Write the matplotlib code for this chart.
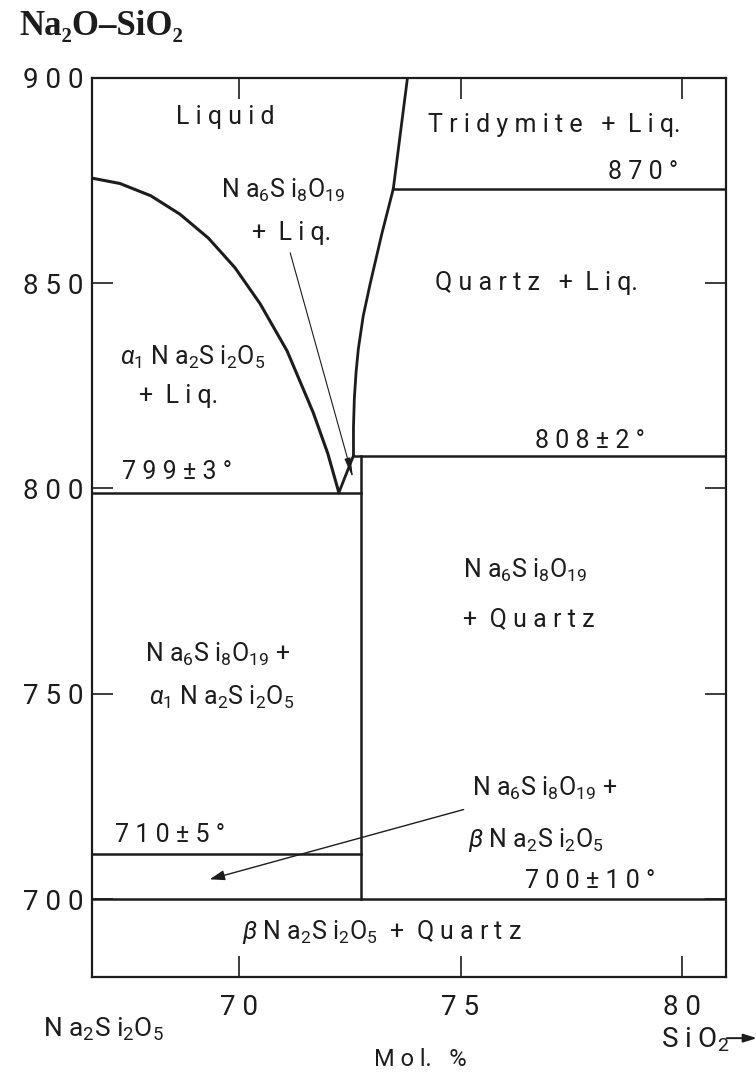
import matplotlib
matplotlib.use('Agg')
import matplotlib.pyplot as plt

plt.rcParams['font.family'] = ['Roboto', 'DejaVu Sans']
plt.rcParams['mathtext.fontset'] = 'custom'
plt.rcParams['mathtext.rm'] = 'Roboto'
plt.rcParams['mathtext.it'] = 'Roboto:italic'
plt.rcParams['mathtext.bf'] = 'Roboto:bold'

INK = '#1c1c1c'

# liquidus of Na2Si2O5 down to the eutectic (mol % SiO2, deg C)
disil_x = [66.67, 67.3, 68.0, 68.66, 69.3, 69.9, 70.47, 71.08, 71.67, 72.0, 72.25]
disil_t = [875.6, 874.3, 871.3, 866.8, 861.0, 853.8, 845.0, 833.5, 818.5, 808.5, 799]

# short Na6Si8O19 liquidus, eutectic -> peritectic
ns_x = [72.25, 72.58]
ns_t = [799, 808]

# quartz liquidus, then tridymite liquidus
qtz_x = [72.58, 72.58, 72.6, 72.64, 72.69, 72.8, 72.96, 73.22, 73.48]
qtz_t = [808, 815, 822, 828.5, 834, 842, 850, 862, 873]
trd_x = [73.48, 73.8]
trd_t = [873, 900]

# invariant lines: (x start, x end, temperature)
iso_x0 = [73.48, 72.58, 66.67, 66.67, 66.67]
iso_x1 = [81.0, 81.0, 72.75, 72.75, 81.0]
iso_t = [873, 808, 799, 711, 700]

# Na6Si8O19 composition line
comp_x = 72.75
comp_t = [700, 808]

x_ticks = [70, 75, 80]
t_ticks = [700, 750, 800, 850, 900]

NS = r'N a$_6$S i$_8$O$_{19}$'
DS = r'N a$_2$S i$_2$O$_5$'

fig = plt.figure(figsize=(7.56, 10.74), dpi=100)
ax = fig.add_axes([0.1217, 0.0903, 0.8386, 0.8371])
ax.set_xlim(66.67, 81.0)
ax.set_ylim(681, 900)

ax.plot(disil_x, disil_t, color=INK, lw=2.2)
ax.plot(ns_x, ns_t, color=INK, lw=2.0)
ax.plot(qtz_x, qtz_t, color=INK, lw=2.0)
ax.plot(trd_x, trd_t, color=INK, lw=2.0)
for a, b, t in zip(iso_x0, iso_x1, iso_t):
    ax.plot([a, b], [t, t], color=INK, lw=1.8)
ax.plot([comp_x, comp_x], comp_t, color=INK, lw=1.8)

# pointer into the small Na6Si8O19 + Liq. field
ax.annotate('', xy=(72.57, 802.5), xytext=(71.15, 857.4),
            arrowprops=dict(arrowstyle='-|>,head_length=1.2,head_width=0.18',
                            color=INK, lw=0.8, shrinkA=0, shrinkB=0))
# arrow to the Na6Si8O19 + beta field
ax.annotate('', xy=(69.33, 704.8), xytext=(75.07, 721.8),
            arrowprops=dict(arrowstyle='-|>,head_length=0.9,head_width=0.3',
                            color=INK, lw=1.0, shrinkA=0, shrinkB=0))

labels = [
    ('L i q u i d', 69.68, 890.5, 'center'),
    ('T r i d y m i t e   +  L i q.', 77.12, 888.5, 'center'),
    ('8 7 0 °', 79.93, 877, 'right'),
    (NS, 71.0, 872.6, 'center'),
    ('+  L i q.', 71.17, 862.3, 'center'),
    ('Q u a r t z   +  L i q.', 76.72, 850, 'center'),
    (r'$\alpha_1$ ' + DS, 68.95, 832, 'center'),
    ('+  L i q.', 68.62, 822.5, 'center'),
    ('8 0 8 ± 2 °', 79.18, 811.5, 'right'),
    ('7 9 9 ± 3 °', 67.35, 804, 'left'),
    (NS, 75.06, 780, 'left'),
    ('+  Q u a r t z', 75.06, 768.3, 'left'),
    (NS + ' +', 69.5, 759.5, 'center'),
    (r'$\alpha_1$ ' + DS, 69.6, 749.2, 'center'),
    (NS + ' +', 76.9, 727, 'center'),
    (r'$\beta$ ' + DS, 76.7, 714.3, 'center'),
    ('7 1 0 ± 5 °', 67.2, 715.5, 'left'),
    ('7 0 0 ± 1 0 °', 79.41, 704.5, 'right'),
    (r'$\beta$ ' + DS + '  +  Q u a r t z', 73.23, 692, 'center'),
]
for s, x, y, ha in labels:
    ax.text(x, y, s, ha=ha, va='center', fontsize=18, color=INK)

ax.set_xticks(x_ticks)
ax.set_xticklabels([' '.join(str(v)) for v in x_ticks])
ax.set_yticks(t_ticks)
ax.set_yticklabels([' '.join(str(v)) for v in t_ticks])
ax.tick_params(direction='in', length=15, width=1.2, top=True, right=True,
               labelsize=20, colors=INK)
ax.tick_params(axis='x', pad=12)
ax.tick_params(axis='y', pad=6)
for sp in ax.spines.values():
    sp.set_linewidth(1.6)
    sp.set_color(INK)

trans = ax.get_xaxis_transform()
ax.text(66.94, -0.058, DS, transform=trans, ha='center', va='center',
        fontsize=19, color=INK, clip_on=False)
ax.text(74.1, -0.092, 'M o l.   %', transform=trans, ha='center', va='center',
        fontsize=17, color=INK, clip_on=False)
ax.text(79.52, -0.070, r'S i O$_2$', transform=trans, ha='left', va='center',
        fontsize=20, color=INK, clip_on=False)
ax.annotate('', xy=(81.7, -0.068), xytext=(81.02, -0.068),
            xycoords=trans, textcoords=trans, annotation_clip=False,
            arrowprops=dict(arrowstyle='-|>,head_length=0.8,head_width=0.25',
                            color=INK, lw=1.4, shrinkA=0, shrinkB=0))

fig.text(0.026, 0.967, 'Na₂O–SiO₂', family=['Liberation Serif', 'DejaVu Serif'],
         fontweight='bold', fontsize=25, color=INK, va='baseline')

fig.savefig('out.png', dpi=100)
